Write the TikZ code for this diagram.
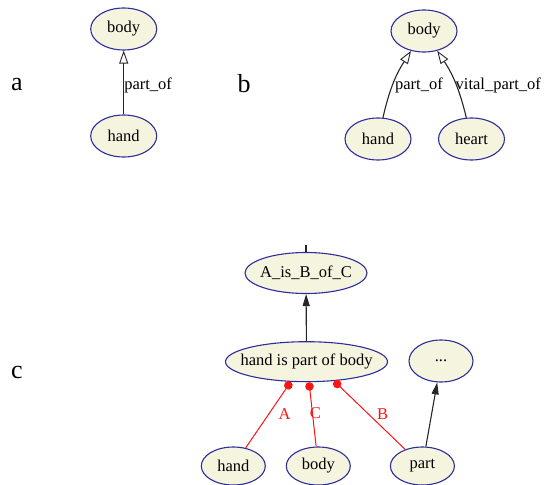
\documentclass[tikz,border=0pt]{standalone}
\usepackage{fontspec}
\setmainfont{Liberation Serif}
\usetikzlibrary{shapes.geometric,arrows.meta}
\definecolor{nodefill}{RGB}{245,244,222}
\definecolor{nodeline}{RGB}{45,45,155}
\definecolor{edgered}{RGB}{250,20,20}
\tikzset{
  ell/.style={ellipse,draw=nodeline,fill=nodefill,line width=1.1pt,inner sep=0pt,
    font=\fontsize{16.5}{18}\selectfont,text=black},
  small/.style={ell,minimum width=66pt,minimum height=42pt},
  partlbl/.style={font=\fontsize{26}{28}\selectfont},
  isa/.style={draw=black!85,line width=1.1pt,-{Triangle[open,length=13pt,width=9pt,line width=0.9pt]}},
  arr/.style={draw=black!85,line width=1.1pt,-{Triangle[length=12pt,width=7pt]}},
  role/.style={draw=edgered,line width=1pt,-{Circle[length=8.5pt]},edgered},
  elbl/.style={font=\fontsize{16.5}{18}\selectfont,inner sep=1pt},
  rlbl/.style={font=\fontsize{16.5}{18}\selectfont,text=edgered,inner sep=1pt}
}
\begin{document}
\begin{tikzpicture}[x=1pt,y=-1pt]
\useasboundingbox (0,0) rectangle (548,484);
% labels
\node[partlbl] (la) at (17,85) {a};
\node[partlbl] (lb) at (244,84) {b};
\node[partlbl] (lc) at (17,372) {c};
% a
\node[small] (abody) at (123.7,29) {body};
\node[small] (ahand) at (123.7,136) {hand};
\draw[isa] (ahand) -- node[elbl,right,pos=0.5,xshift=-1pt,yshift=-3pt] {part\_of} (abody);
% b
\node[small] (bbody) at (424,31) {body};
\node[small] (bhand) at (378,139) {hand};
\node[small] (bheart) at (471.5,139) {heart};
\draw[isa] (bhand) to[bend left=10] node[elbl,anchor=west,pos=0.5,yshift=-3pt] {part\_of} (bbody);
\draw[isa] (bheart) to[bend right=10] node[elbl,anchor=west,pos=0.5,xshift=-1pt,yshift=-3pt] {vital\_part\_of} (bbody);
% c
\node[ell,minimum width=122pt,minimum height=41pt,inner xsep=-4pt] (abc) at (306,273) {A\_is\_B\_of\_C};
\coordinate (stub) at (306,245);
\draw[draw=black!85,line width=1.1pt] (abc.north) -- (stub);
\node[ell,minimum width=162pt,minimum height=40pt,inner xsep=-9pt] (hipb) at (306.5,361.7) {hand is part of body};
\node[ell,minimum width=64pt,minimum height=42pt] (dots) at (441,361) {...};
\node[ell,minimum width=64pt,minimum height=38pt] (chand) at (233.3,466) {hand};
\node[ell,minimum width=64pt,minimum height=38pt] (cbody) at (318.3,466) {body};
\node[ell,minimum width=64pt,minimum height=38pt] (cpart) at (422.4,466) {part};
\draw[arr] (hipb) -- (abc);
\draw[arr] (cpart) -- (dots);
\draw[role] (chand) -- node[rlbl,pos=0.52,right,xshift=8pt] {A} (hipb.-128);
\draw[role] (cbody) -- node[rlbl,pos=0.52,right,xshift=-4pt] {C} (hipb.-83);
\draw[role] (cpart) -- node[rlbl,pos=0.5,above right,xshift=6pt,yshift=-6pt] {B} (hipb.-35);
\end{tikzpicture}
\end{document}
